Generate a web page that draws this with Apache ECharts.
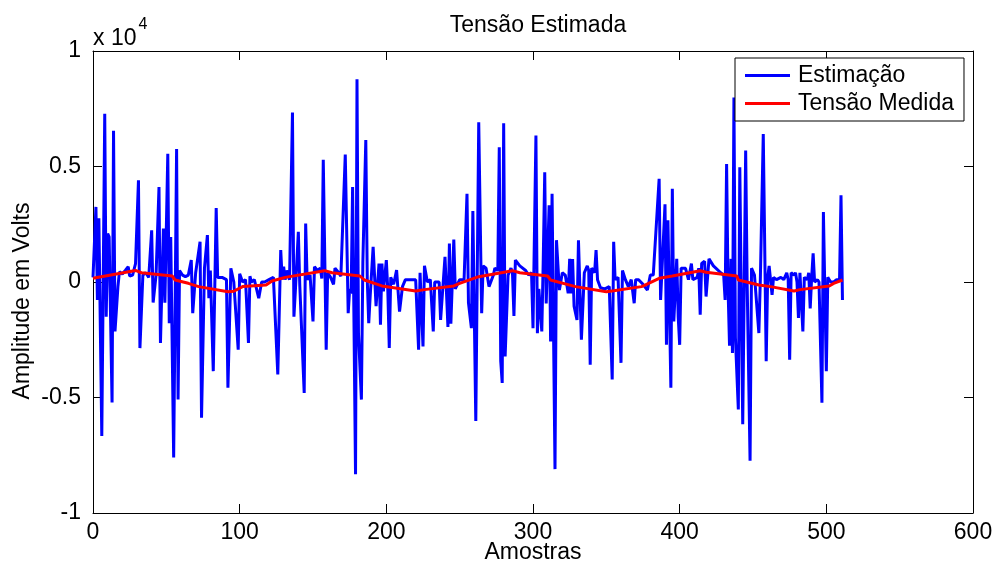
<!DOCTYPE html>
<html><head><meta charset="utf-8">
<script src="https://cdn.jsdelivr.net/npm/echarts@6/dist/echarts.min.js"></script>
<style>html,body{margin:0;padding:0;background:#fff}#c{width:994px;height:569px}</style>
</head><body><div id="c"></div>
<script>
const title = 'Tensão Estimada';
const xName = 'Amostras';
const yName = 'Amplitude em Volts';
const seriesNames = ['Estimação', 'Tensão Medida'];
const xTicks = [0, 100, 200, 300, 400, 500, 600];
const yTicks = [-10000, -5000, 0, 5000, 10000];

const blueX = [0,2,3,4,6,8,9,10,11,13,14,15,17,18,20,22,24,25,27,29,31,32,34,36,38,40,41,43,45,46,48,49,51,52,53,55,57,58,59,61,
63,65,67,68,70,73,74,76,78,79,80,82,84,85,88,91,92,94,96,97,99,100,102,104,106,107,108,110,113,115,117,120,123,126,128,129,130,
131,132,134,136,137,138,140,141,142,144,145,146,148,150,151,153,155,156,157,159,160,162,164,165,167,169,172,174,175,176,177,179,180,181,183,184,186,187,188,189,191,193,195,196,
197,198,200,201,202,203,205,207,209,211,213,216,220,222,223,225,226,228,230,232,233,236,237,240,242,243,244,246,247,250,253,255,256,258,259,261,263,
265,266,268,270,273,274,276,277,278,279,280,281,283,285,286,287,288,291,295,297,299,300,302,303,304,306,307,308,309,311,312,313,315,316,318,320,322,324,325,326,327,328,
330,331,333,335,337,338,339,340,342,343,344,346,349,352,354,355,356,358,360,361,363,365,367,369,370,372,375,378,380,382,386,387,388,390,391,392,394,395,
396,398,399,400,401,404,406,408,409,412,413,414,415,417,418,420,423,428,430,431,432,433,434,435,436,437,438,440,441,443,445,446,448,449,451,452,454,455,457,459,
460,461,463,464,466,469,471,473,474,475,476,478,479,480,481,482,484,485,487,488,489,490,491,492,494,495,497,498,500,501,502,503,505,507,509,510,511];
const blueY = [200,3250,-780,2760,-6670,7280,-1500,2100,1950,-5220,6550,-2140,-200,440,350,500,660,260,300,800,4400,-2860,300,400,200,2240,-890,300,4110,-2640,2310,-900,5550,-1780,1950,-7600,5760,-5090,500,300,
230,300,950,-1350,400,1740,-5880,600,2030,-700,500,-3860,3200,200,200,100,-4580,590,0,0,-2930,360,0,100,-2640,250,0,100,-700,0,0,100,200,-4000,1380,100,660,
100,500,100,7340,-1500,-350,2170,-160,-200,-4800,2530,100,300,-1710,660,500,600,150,5290,-2930,400,200,-100,600,450,250,5520,-1350,-300,-500,4110,-8320,8780,-2220,-5090,880,6150,100,-1780,-600,1520,-1050,800,-1850,
800,-400,950,-350,-2860,200,-100,520,-1280,-200,100,100,100,-2930,400,-2790,700,0,100,-2140,0,0,-1640,1090,-1950,1670,-1800,1840,-300,100,100,3820,-900,-2000,3070,-6020,6910,
-1350,700,600,-200,300,600,500,5830,-3430,-4370,6870,-3220,300,600,400,-1470,950,700,500,300,400,-2000,6340,-2220,-300,-2140,1000,4750,-930,3320,-2570,3820,-8100,1810,-350,400,300,-490,1000,-500,990,-1050,
-1640,1810,-2500,400,700,500,-3580,600,400,1380,100,-250,-300,-200,-4220,1740,100,200,-3500,500,100,-200,100,-920,100,100,-100,-350,300,300,4470,-780,600,3360,-2720,2670,-4580,4040,
-1710,1000,-1500,-2720,600,590,100,800,100,200,600,-1420,800,900,-630,1000,700,400,300,-780,5110,-300,-2760,1000,-3070,7990,-2400,-5520,4970,-6160,5690,0,-7740,600,300,300,-2210,100,6410,-3430,
200,700,-560,200,100,200,100,400,100,-3360,400,300,400,0,-1560,400,-2140,200,100,400,-1140,200,1240,0,100,0,-5230,3030,-3860,200,100,0,0,100,100,3750,-780];

const redX = [0,29,33,54,56,65,72,92,96,102,118,122,131,158,163,182,185,197,220,226,246,250,263,286,291,310,312,329,350,355,374,376,386,395,414,418,439,440,454,462,478,482,502,505,511];
const redY = [160,500,400,260,86,-57,-200,-420,-400,-200,-130,43,200,490,400,260,86,-170,-390,-330,-170,-60,230,490,400,260,86,-200,-420,-380,-200,-150,160,260,490,420,260,86,-130,-200,-390,-330,-170,-60,86];

const FONT = 'Liberation Sans, Arial, sans-serif';
const blueData = blueX.map((x, i) => [x, blueY[i]]);
const redData = redX.map((x, i) => [x, redY[i]]);

const chart = echarts.init(document.getElementById('c'), null, {renderer: 'canvas'});
const axisLine = {show: true, onZero: false, lineStyle: {color: '#000', width: 1}};
const tick = {show: true, inside: true, length: 9, lineStyle: {color: '#000', width: 1}};
chart.setOption({
  animation: false,
  backgroundColor: '#fff',
  title: {text: title, left: 533, textAlign: 'center', top: 9, textStyle: {fontFamily: FONT, fontSize: 23, fontWeight: 'normal', color: '#000'}},
  grid: {left: 93, right: 21, top: 51, bottom: 56, outerBoundsMode: 'none', containLabel: false},
  legend: {
    orient: 'vertical', left: 735, top: 58,
    data: seriesNames,
    itemWidth: 45, itemHeight: 3, itemGap: 5,
    padding: [6, 10, 6, 10],
    borderColor: '#000', borderWidth: 1, backgroundColor: '#fff',
    icon: 'rect',
    textStyle: {fontFamily: FONT, fontSize: 23, color: '#000', padding: [0, 0, 0, 3]}
  },
  xAxis: [
    {type: 'value', min: 0, max: 600, interval: 100, position: 'bottom',
     axisLine: axisLine, axisTick: tick, splitLine: {show: false},
     axisLabel: {fontFamily: FONT, fontSize: 23, color: '#000', margin: 8}},
    {type: 'value', min: 0, max: 600, interval: 100, position: 'top',
     axisLine: axisLine, axisTick: tick, splitLine: {show: false}, axisLabel: {show: false}}
  ],
  yAxis: [
    {type: 'value', min: -10000, max: 10000, interval: 5000, position: 'left',
     axisLine: axisLine, axisTick: tick, splitLine: {show: false},
     axisLabel: {fontFamily: FONT, fontSize: 23, color: '#000', margin: 12,
       formatter: v => String(v / 10000)}},
    {type: 'value', min: -10000, max: 10000, interval: 5000, position: 'right',
     axisLine: axisLine, axisTick: tick, splitLine: {show: false}, axisLabel: {show: false}}
  ],
  graphic: [
    {type: 'text', left: 93, top: 17,
     style: {
       text: '{a|x 10}{b|4}',
       rich: {
         a: {fontFamily: FONT, fontSize: 23, fill: '#000', verticalAlign: 'bottom', padding: [10, 0, 0, 0]},
         b: {fontFamily: FONT, fontSize: 16, fill: '#000', verticalAlign: 'top', padding: [0, 0, 0, 2]}
       }
     }},
    {type: 'text', x: 23, y: 301, rotation: Math.PI / 2,
     style: {text: yName, fontFamily: FONT, fontSize: 23, fill: '#000', align: 'center', verticalAlign: 'middle'}},
    {type: 'text', x: 533, y: 553,
     style: {text: xName, fontFamily: FONT, fontSize: 23, fill: '#000', align: 'center', verticalAlign: 'middle'}}
  ],
  series: [
    {name: seriesNames[0], type: 'line', data: blueData, showSymbol: false, symbol: 'none',
     lineStyle: {color: '#0000ff', width: 3}, itemStyle: {color: '#0000ff'}, z: 2},
    {name: seriesNames[1], type: 'line', data: redData, showSymbol: false, symbol: 'none',
     lineStyle: {color: '#ff0000', width: 3}, itemStyle: {color: '#ff0000'}, z: 3}
  ]
});
</script></body></html>
